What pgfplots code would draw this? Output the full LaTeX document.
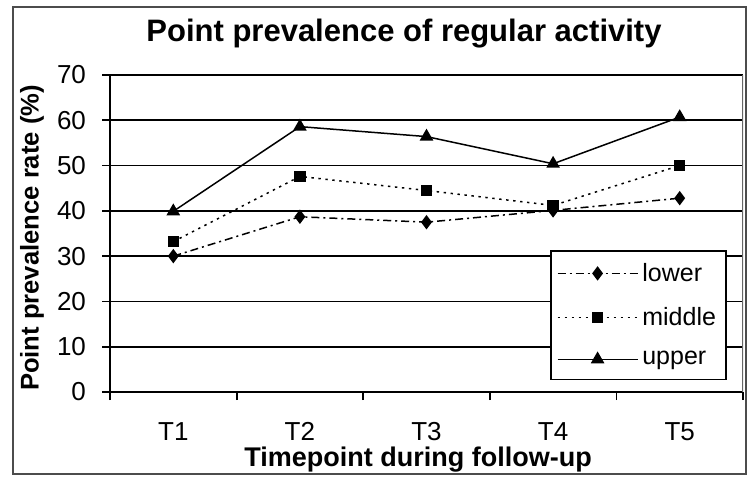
\documentclass[border=0pt]{standalone}
\usepackage{pgfplots}
\pgfplotsset{compat=1.18}
\usepackage{fontspec}
\setmainfont{Liberation Sans}

\begin{document}
\begin{tikzpicture}
\useasboundingbox (0,0) rectangle (373.5pt,238pt);
\draw[black!70, line width=0.8pt] (6.5pt,1pt) rectangle (373pt,234.5pt);

\begin{axis}[
	at={(55pt,42pt)}, anchor=south west,
	scale only axis,
	width=316.5pt, height=158.5pt,
	xmin=0.5, xmax=5.5,
	ymin=0, ymax=70,
	xtick={0.5,1.5,...,5.5},
	xticklabels={T1,T2,T3,T4,T5},
	x tick label as interval,
	ytick={0,10,...,70},
	ymajorgrids=true,
	grid style={black, line width=0.85pt},
	axis x line*=bottom,
	axis y line*=left,
	axis line style={black, line width=0.9pt},
	tick style={black, line width=0.9pt},
	tick align=outside,
	major tick length=4pt,
	/pgf/number format/assume math mode=true,
	ticklabel style={font=\fontsize{13}{13}\selectfont},
	xticklabel style={anchor=north, text height=9.5pt, text depth=0pt, yshift=-7pt},
	yticklabel style={xshift=-4.5pt},
	legend style={at={(0.695,0.448)}, anchor=north west, draw=black,
		line width=0.9pt, font=\fontsize{12.5}{12.5}\selectfont,
		inner xsep=3pt, inner ysep=4pt, row sep=7.5pt},
	legend cell align=left,
	legend image code/.code={
		\draw[mark repeat=2, mark phase=2, #1]
		plot coordinates {(0pt,0pt) (20pt,0pt) (40pt,0pt)};
	},
]
\draw[black!60, line width=0.75pt] (rel axis cs:1,0) -- (rel axis cs:1,1);

\addplot[black, line width=0.75pt, dash pattern=on 4pt off 2pt on 1pt off 2pt,
	mark=diamond*, mark size=3pt, mark options={solid}]
	coordinates {(1,30.0) (2,38.7) (3,37.5) (4,40.1) (5,42.8)};
\addlegendentry{lower}

\addplot[black, line width=0.75pt, dash pattern=on 1.2pt off 2.3pt,
	mark=square*, mark size=2.5pt, mark options={solid}]
	coordinates {(1,33.2) (2,47.6) (3,44.5) (4,41.2) (5,50.0)};
\addlegendentry{middle}

\addplot[black, line width=0.75pt,
	mark=triangle*, mark size=3.2pt, mark options={solid}]
	coordinates {(1,39.9) (2,58.6) (3,56.4) (4,50.4) (5,60.7)};
\addlegendentry{upper}
\end{axis}

\node[anchor=base, font=\fontsize{15.5}{15.5}\selectfont\bfseries] at (202pt,217pt)
	{Point prevalence of regular activity};
\node[rotate=90, font=\fontsize{12.8}{12.8}\selectfont\bfseries] at (16pt,119pt)
	{Point prevalence rate (\%)};
\node[anchor=base, font=\fontsize{13.5}{13.5}\selectfont\bfseries] at (209pt,5pt)
	{Timepoint during follow-up};
\end{tikzpicture}
\end{document}
